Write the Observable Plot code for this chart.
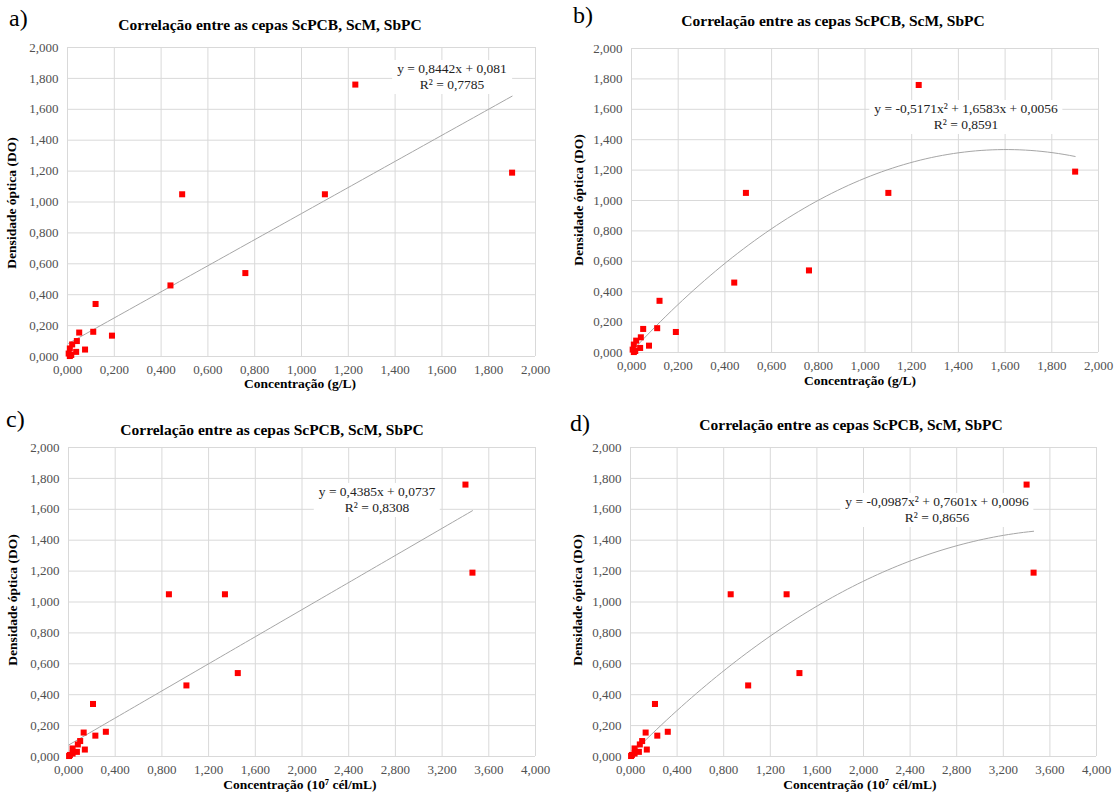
<!DOCTYPE html>
<html><head><meta charset="utf-8">
<script src="https://cdn.jsdelivr.net/npm/d3@7"></script>
<script src="https://cdn.jsdelivr.net/npm/@observablehq/plot@0.6"></script>
<style>
body{margin:0;background:#fff;font-family:"Liberation Serif","DejaVu Serif",serif;}
#fig{position:relative;width:1118px;height:798px;overflow:hidden;}
.abs{position:absolute;white-space:nowrap;line-height:1;color:#000;}
.letter{font-size:24px;}
.title{font-weight:bold;font-size:15.5px;transform:translate(-50%,-50%);}
.xt{font-weight:bold;font-size:13.5px;transform:translate(-50%,-50%);}
.yt{font-weight:bold;font-size:13.5px;transform:translate(-50%,-50%) rotate(-90deg);}
.eq{background:#fff;font-size:13.5px;text-align:center;line-height:16px;padding:1px 5px;transform:translateX(-50%);color:#222;}
svg{position:absolute;overflow:visible;}
svg text{font-family:"Liberation Serif",serif !important;font-size:13px !important;}
</style></head><body><div id="fig"></div>
<script>
// ---- data ----
const panelLetters = ["a)", "b)", "c)", "d)"];
const chartTitle = "Correlação entre as cepas ScPCB, ScM, SbPC";
const xTitleGL = "Concentração (g/L)";
const xTitleCel = "Concentração (10⁷ cél/mL)";
const yTitle = "Densidade óptica (DO)";

const densidadeDO = [1.76, 1.19, 1.05, 1.05, 0.54, 0.46, 0.34, 0.16, 0.155, 0.135, 0.10, 0.045, 0.078, 0.03, 0.052, 0.019, 0.01, 0.003];
const concGL =      [1.23, 1.90, 1.10, 0.49, 0.76, 0.44, 0.12, 0.11, 0.05, 0.19, 0.04, 0.075, 0.02, 0.037, 0.01, 0.005, 0.016, 0.01];
const concCel =     [3.40, 3.46, 1.34, 0.86, 1.45, 1.01, 0.21, 0.32, 0.13, 0.23, 0.10, 0.14, 0.08, 0.072, 0.035, 0.035, 0.012, 0.005];

const xTicksGL = [0, 0.2, 0.4, 0.6, 0.8, 1.0, 1.2, 1.4, 1.6, 1.8, 2.0];
const xTicksCel = [0, 0.4, 0.8, 1.2, 1.6, 2.0, 2.4, 2.8, 3.2, 3.6, 4.0];
const yTicks = [0, 0.2, 0.4, 0.6, 0.8, 1.0, 1.2, 1.4, 1.6, 1.8, 2.0];

// trendline coefficients [x², x, const] as displayed on the chart
const trendCoefs = [[0, 0.8442, 0.081], [-0.5171, 1.6583, 0.0056], [0, 0.4385, 0.0737], [-0.0987, 0.7601, 0.0096]];
const eqLabels = ["y = 0,8442x + 0,081", "y = -0,5171x² + 1,6583x + 0,0056", "y = 0,4385x + 0,0737", "y = -0,0987x² + 0,7601x + 0,0096"];
const r2Labels = ["R² = 0,7785", "R² = 0,8591", "R² = 0,8308", "R² = 0,8656"];

// ---- layout ----
const panels = [
  {xs: concGL,  xTicks: xTicksGL,  xMax: 2, xTitle: xTitleGL,  plot: [67, 535, 47, 356],  letter: [9, 6],   title: [270, 25],  xt: [300, 384], yt: [12, 203], eq: [452, 60]},
  {xs: concGL,  xTicks: xTicksGL,  xMax: 2, xTitle: xTitleGL,  plot: [631, 1098, 48, 352], letter: [573, 3], title: [833, 21],  xt: [860, 381], yt: [579, 200], eq: [966, 100]},
  {xs: concCel, xTicks: xTicksCel, xMax: 4, xTitle: xTitleCel, plot: [68, 535, 447, 756], letter: [6, 407], title: [272, 430], xt: [300, 785], yt: [13, 600], eq: [377, 483]},
  {xs: concCel, xTicks: xTicksCel, xMax: 4, xTitle: xTitleCel, plot: [630, 1096, 447, 756], letter: [570, 411], title: [851, 425], xt: [860, 785], yt: [578, 600], eq: [937, 493]}
];

const fig = document.getElementById("fig");
const fmt = d => d.toFixed(3).replace(".", ",");
function addDiv(cls, html, x, y) {
  const d = document.createElement("div");
  d.className = "abs " + cls;
  d.innerHTML = html;
  d.style.left = x + "px";
  d.style.top = y + "px";
  fig.appendChild(d);
  return d;
}

panels.forEach((p, i) => {
  const [pl, pr, pt, pb] = p.plot;
  const mL = 62, mR = 20, mT = 8, mB = 26;
  const data = p.xs.map((x, k) => ({x, y: densidadeDO[k]}));
  const [c2, c1, c0] = trendCoefs[i];
  const xmin = d3.min(p.xs), xmax = d3.max(p.xs);
  const trend = d3.range(0, 81).map(k => {
    const x = xmin + (xmax - xmin) * k / 80;
    return {x, y: c2 * x * x + c1 * x + c0};
  });
  const chart = Plot.plot({
    width: mL + (pr - pl) + mR,
    height: mT + (pb - pt) + mB,
    marginLeft: mL, marginRight: mR, marginTop: mT, marginBottom: mB,
    style: {fontFamily: "'Liberation Serif', serif", fontSize: "13px", color: "#505050", background: "transparent"},
    x: {domain: [0, p.xMax]},
    y: {domain: [0, 2]},
    marks: [
      Plot.gridX(p.xTicks, {stroke: "#d9d9d9", strokeOpacity: 1}),
      Plot.gridY(yTicks, {stroke: "#d9d9d9", strokeOpacity: 1}),
      Plot.axisX({ticks: p.xTicks, tickFormat: fmt, tickSize: 0, tickPadding: 8, label: null}),
      Plot.axisY({ticks: yTicks, tickFormat: fmt, tickSize: 0, tickPadding: 9, label: null}),
      Plot.line(trend, {x: "x", y: "y", stroke: "#a6a6a6", strokeWidth: 1, curve: "linear"}),
      Plot.dot(data, {x: "x", y: "y", symbol: "square", r: 3.4, fill: "#ff0000", stroke: "none"})
    ]
  });
  chart.style.left = (pl - mL) + "px";
  chart.style.top = (pt - mT) + "px";
  fig.appendChild(chart);

  addDiv("letter", panelLetters[i], p.letter[0], p.letter[1]);
  addDiv("title", chartTitle, p.title[0], p.title[1]);
  addDiv("xt", p.xTitle, p.xt[0], p.xt[1]);
  addDiv("yt", yTitle, p.yt[0], p.yt[1]);
  addDiv("eq", eqLabels[i] + "<br>" + r2Labels[i], p.eq[0], p.eq[1]);
});
</script></body></html>
